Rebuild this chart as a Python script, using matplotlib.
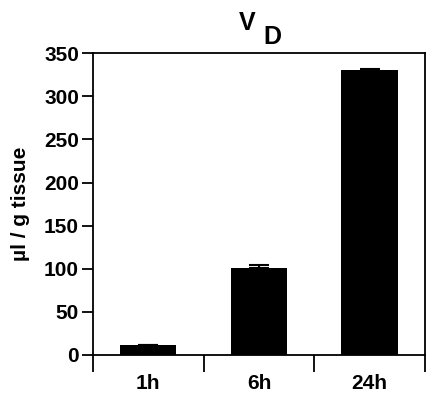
import numpy as np
import matplotlib.pyplot as plt

plt.rcParams['font.family'] = ['Liberation Sans', 'DejaVu Sans']
plt.rcParams['font.weight'] = 'bold'

# data
groups = ['1h', '6h', '24h']
volume = [12, 101, 331]
volume_err = [0, 3, 1]

fig = plt.figure(figsize=(4.4, 3.94), dpi=100)
ax = fig.add_axes([0.211, 0.099, 0.755, 0.766])

x = np.arange(len(groups))
ax.bar(x, volume, width=0.51, color='black', zorder=2)
ax.errorbar(x, volume, yerr=[np.zeros(len(groups)), volume_err], fmt='none',
            ecolor='black', elinewidth=1.5, capsize=7, capthick=1.5, zorder=3)

ax.set_xlim(-0.5, len(groups) - 0.5)
ax.set_ylim(0, 350)
ax.set_yticks(np.arange(0, 351, 50))
ax.set_xticks(x)
ax.set_xticklabels(groups)
ax.set_xticks(np.arange(-0.5, len(groups), 1.0), minor=True)
ax.tick_params(axis='x', which='major', length=0, pad=14, labelsize=15)
ax.tick_params(axis='x', which='minor', length=12, width=1.3, direction='out')
ax.tick_params(axis='y', length=8, width=1.3, labelsize=15, pad=2)
for s in ax.spines.values():
    s.set_linewidth(1.3)
for lab in ax.get_xticklabels() + ax.get_yticklabels():
    lab.set_fontweight('bold')

ax.set_ylabel('µl / g tissue', fontsize=15, fontweight='bold', labelpad=10)

fig.text(0.562, 0.972, 'V', fontsize=18, fontweight='bold', ha='center', va='top')
fig.text(0.618, 0.937, 'D', fontsize=18, fontweight='bold', ha='center', va='top')

fig.savefig('out.png', dpi=100)
